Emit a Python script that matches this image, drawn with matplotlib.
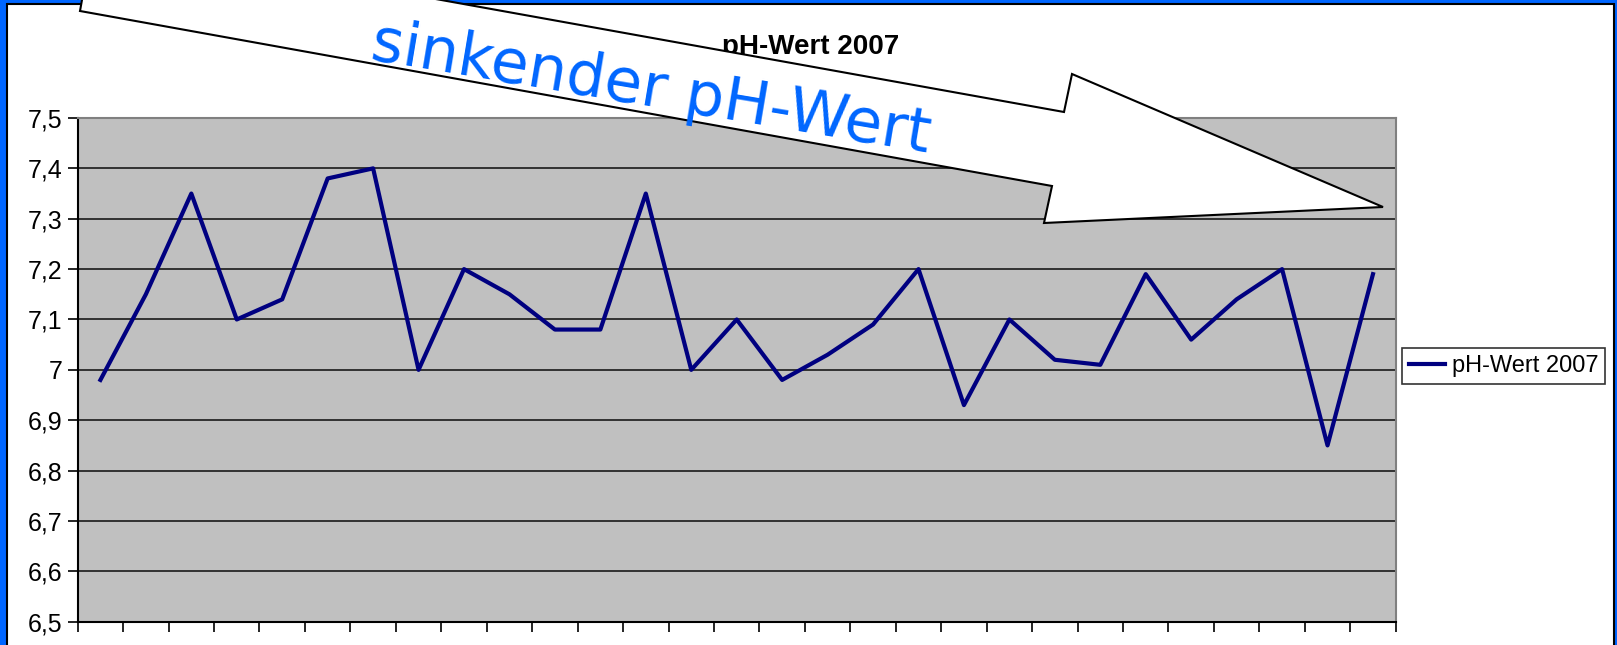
import numpy as np
import matplotlib
matplotlib.use("Agg")
import matplotlib.pyplot as plt
from matplotlib.patches import Rectangle, Polygon

# pH values 2007, one per measurement
ph_values = [6.98, 7.15, 7.35, 7.10, 7.14, 7.38, 7.40, 7.00, 7.20, 7.15,
             7.08, 7.08, 7.35, 7.00, 7.10, 6.98, 7.03, 7.09, 7.20, 6.93,
             7.10, 7.02, 7.01, 7.19, 7.06, 7.14, 7.20, 6.85, 7.19]
y_ticks = [6.5, 6.6, 6.7, 6.8, 6.9, 7.0, 7.1, 7.2, 7.3, 7.4, 7.5]
y_labels = ["6,5", "6,6", "6,7", "6,8", "6,9", "7", "7,1", "7,2", "7,3", "7,4", "7,5"]
series_name = "pH-Wert 2007"
title = "pH-Wert 2007"
arrow_text = "sinkender pH-Wert"

W, H = 1617, 645
plt.rcParams["font.family"] = ["Liberation Sans", "DejaVu Sans"]
fig = plt.figure(figsize=(W / 100, H / 100), dpi=100, facecolor="#0066ff")

def fx(x):
    return x / W

def fy(y):
    return (H - y) / H

# white sheet with black edge inside the blue frame
fig.patches.append(Rectangle((fx(6.5), fy(H + 10)), fx(1613.5 - 6.5), (H + 10 - 4.5) / H,
                             transform=fig.transFigure, facecolor="white",
                             edgecolor="black", lw=1.5, zorder=-1))

ax = fig.add_axes([fx(77.7), fy(621.7), fx(1395.7 - 77.7), (621.7 - 118) / H])
ax.set_zorder(1)
ax.set_facecolor("#c0c0c0")
x = np.arange(len(ph_values)) + 0.5
ax.plot(x, ph_values, color="#000080", lw=3.0, label=series_name, zorder=3)

ax.set_xlim(0, len(ph_values))
ax.set_ylim(6.5, 7.5)
ax.set_yticks(y_ticks)
ax.set_yticklabels(y_labels, fontsize=18)
ax.set_xticks(np.arange(len(ph_values) + 1))
ax.set_xticklabels([])
ax.tick_params(axis="both", direction="out", length=7, width=1.2, color="black", pad=4)
ax.yaxis.grid(True, color="#1a1a1a", lw=1.2)
ax.set_axisbelow(True)
for s in ["left", "bottom"]:
    ax.spines[s].set_color("black")
    ax.spines[s].set_linewidth(1.5)
for s in ["top", "right"]:
    ax.spines[s].set_color("#808080")
    ax.spines[s].set_linewidth(1.5)

leg = fig.legend(loc="upper left", bbox_to_anchor=(fx(1402), fy(348)), fontsize=17,
                 frameon=True, fancybox=False, edgecolor="black", borderaxespad=0,
                 borderpad=0.3, handlelength=1.5, handletextpad=0.3)
leg.get_frame().set_linewidth(1.2)
leg.set_zorder(4)

fig.text(fx(811), fy(54), title, ha="center", va="baseline", fontsize=20,
         fontweight="bold", zorder=3)

# big block arrow pointing down to the right
arrow_px = [(93.2, -62.6), (1064, 112), (1072, 74), (1383, 207),
            (1044, 223), (1052, 186), (80, 11)]
fig.patches.append(Polygon([(fx(a), fy(b)) for a, b in arrow_px], closed=True,
                           transform=fig.transFigure, facecolor="white",
                           edgecolor="black", lw=1.5, zorder=5))
fig.text(fx(648), fy(106), arrow_text, ha="center", va="baseline",
         rotation=-9.5, rotation_mode="anchor", fontsize=44, color="#0066ff",
         family=["DejaVu Sans"], zorder=6)

fig.savefig("out.png", dpi=100, facecolor=fig.get_facecolor())
